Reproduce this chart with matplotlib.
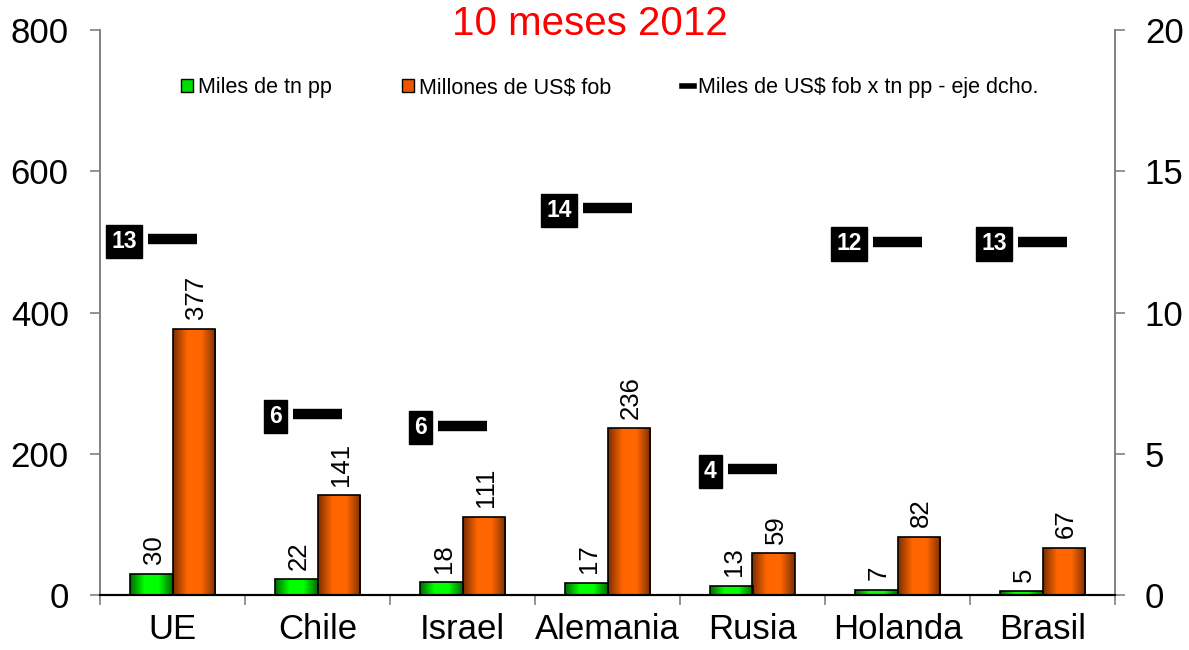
import numpy as np
import matplotlib
matplotlib.use("Agg")
import matplotlib.pyplot as plt
from matplotlib.colors import LinearSegmentedColormap
from matplotlib.patches import Patch
from matplotlib.lines import Line2D

plt.rcParams['font.family'] = ['Liberation Sans', 'DejaVu Sans']

categories = ["UE", "Chile", "Israel", "Alemania", "Rusia", "Holanda", "Brasil"]
miles_tn = [30, 22, 18, 17, 13, 7, 5]
millones_usd = [377, 141, 111, 236, 59, 82, 67]
precio = [12.6, 6.4, 6.0, 13.7, 4.45, 12.5, 12.5]
precio_labels = ["13", "6", "6", "14", "4", "12", "13"]
title = "10 meses 2012"
legend_labels = ["Miles de tn pp", "Millones de US$ fob", "Miles de US$ fob x tn pp - eje dcho."]

fig = plt.figure(figsize=(11.89, 6.5), dpi=100)
ax = fig.add_axes([100/1189, 55/650, 1015/1189, 565/650])
ax2 = ax.twinx()

x = np.arange(len(categories))
w = 0.29

green_cmap = LinearSegmentedColormap.from_list("g", ["#006a00", "#00ff00", "#00ff00", "#006a00"])
orange_cmap = LinearSegmentedColormap.from_list("o", ["#7a2e00", "#ff6600", "#ff6600", "#7a2e00"])
grad = np.linspace(0, 1, 256).reshape(1, -1)

def grad_bars(bars, cmap):
    for b in bars:
        x0, y0 = b.get_x(), b.get_y()
        bw, bh = b.get_width(), b.get_height()
        im = ax.imshow(grad, extent=[x0, x0 + bw, y0, y0 + bh], aspect='auto',
                       cmap=cmap, zorder=2, origin='lower')
        im.set_clip_path(b)

b1 = ax.bar(x - w/2, miles_tn, w, facecolor='none', edgecolor='black', lw=1.2, zorder=3)
b2 = ax.bar(x + w/2, millones_usd, w, facecolor='none', edgecolor='black', lw=1.2, zorder=3)
grad_bars(b1, green_cmap)
grad_bars(b2, orange_cmap)

for xi, v in zip(x, miles_tn):
    ax.annotate(str(v), (xi - w/2, v), xytext=(1.5, 7), textcoords='offset points',
                ha='center', va='bottom', rotation=90, fontsize=18.5)
for xi, v in zip(x, millones_usd):
    ax.annotate(str(v), (xi + w/2, v), xytext=(1.5, 7), textcoords='offset points',
                ha='center', va='bottom', rotation=90, fontsize=18.5)

ax.set_xlim(-0.5, len(categories) - 0.5)
ax.set_ylim(0, 800)
ax.set_yticks([0, 200, 400, 600, 800])
ax2.set_ylim(0, 20)
ax2.set_yticks([0, 5, 10, 15, 20])

# price dashes on right axis
ax2.hlines(precio, x - 0.17, x + 0.17, colors='black', lw=7.5, zorder=4)
for xi, v, lab in zip(x, precio, precio_labels):
    ax2.annotate(lab, (xi - 0.17, v), xytext=(-8, -1.5), textcoords='offset points',
                 ha='right', va='center', fontsize=16.5, fontweight='bold', color='white',
                 bbox=dict(boxstyle='square,pad=0.22', fc='black', ec='black'))

ax.set_xticks(x)
ax.set_xticklabels(categories, fontsize=25)
ax.tick_params(axis='x', which='major', length=0, pad=13)
ax.set_xticks(np.arange(-0.5, len(categories) + 0.5, 1), minor=True)
ax.tick_params(axis='x', which='minor', length=7.5, color='#808080', width=1.2)
ax.tick_params(axis='y', labelsize=25, length=7.5, color='#808080', width=1.2, pad=15)
ax2.tick_params(axis='y', labelsize=25, length=7.5, color='#808080', width=1.2, pad=14)

for a in (ax, ax2):
    a.spines['top'].set_visible(False)
    for s in ('left', 'right'):
        a.spines[s].set_color('#808080')
        a.spines[s].set_linewidth(1.2)
    a.spines['bottom'].set_color('black')
    a.spines['bottom'].set_linewidth(1.5)
ax.spines['bottom'].set_zorder(5)

fig.text(590/1189, 1 - 24/650, title, color='red', fontsize=29, ha='center', va='center')

handles = [Patch(facecolor='#00dd00', edgecolor='black'),
           Patch(facecolor='#ee5500', edgecolor='black'),
           Line2D([0], [0], color='black', lw=4)]
leg = ax.legend(handles, legend_labels, ncol=3, frameon=False, fontsize=15.5,
                loc='center', bbox_to_anchor=(610/1189, 1 - 88/650), bbox_transform=fig.transFigure,
                handlelength=0.55, handleheight=0.55, handletextpad=0.2, columnspacing=3.3)

fig.savefig("out.png", dpi=100)
